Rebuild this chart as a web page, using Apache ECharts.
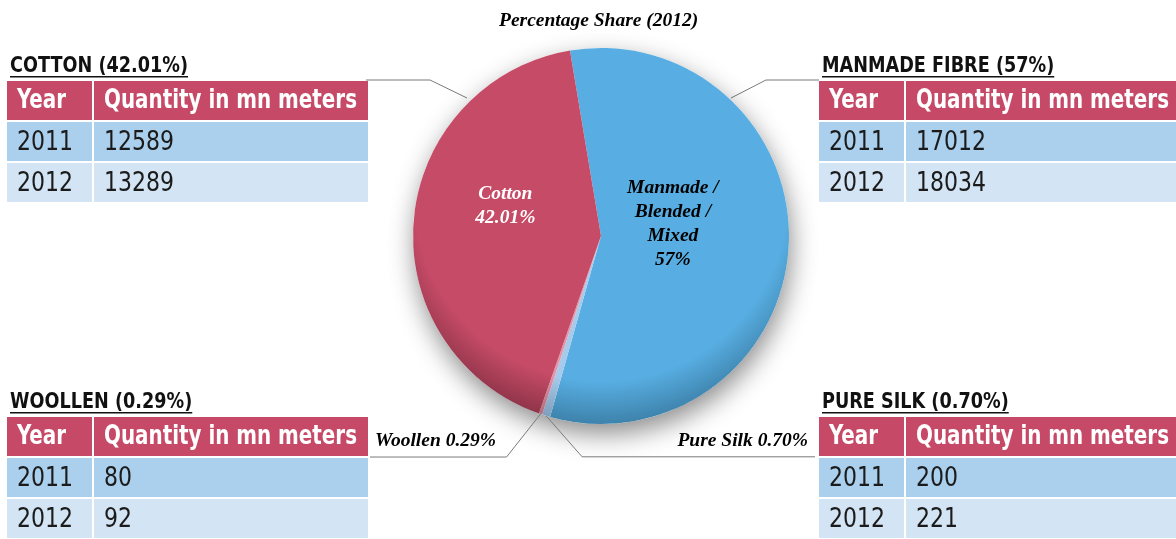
<!DOCTYPE html>
<html>
<head>
<meta charset="utf-8">
<script src="https://cdn.jsdelivr.net/npm/echarts@6/dist/echarts.min.js"></script>
<style>
  html, body { margin: 0; padding: 0; background: #fff; }
  #chart { width: 1176px; height: 539px; }
</style>
</head>
<body>
<div id="chart"></div>
<script>
// fibre types, in pie order (clockwise from the top)
const fibres = ['Manmade / Blended / Mixed', 'Pure Silk', 'Woollen', 'Cotton'];
const pieLabels = ['Manmade /\nBlended /\nMixed', 'Pure Silk', 'Woollen', 'Cotton'];
const shares = ['57%', '0.70%', '0.29%', '42.01%'];
const tableTitles = ['MANMADE FIBRE (57%)', 'PURE SILK (0.70%)', 'WOOLLEN (0.29%)', 'COTTON (42.01%)'];
const headers = ['Year', 'Quantity in mn meters'];
const years = ['2011', '2012'];
const qty2011 = [17012, 200, 80, 12589];
const qty2012 = [18034, 221, 92, 13289];

const baseColors = ['#58AEE2', '#A6CAEB', '#E496A9', '#C64B67'];
const rimColors = ['#3D82AB', '#7C9DBA', '#A96B7B', '#8C3348'];

const NARROW = '"Liberation Sans Narrow", "DejaVu Sans Condensed", "Arial Narrow", sans-serif';
const SERIF = '"Liberation Serif", "DejaVu Serif", serif';

const cx = 601, cy = 236, R = 188;

function shade(i) {
  return {
    type: 'radial', x: cx, y: cy - 42, r: 240, global: true,
    colorStops: [
      { offset: 0, color: baseColors[i] },
      { offset: 0.78, color: baseColors[i] },
      { offset: 0.96, color: rimColors[i] },
      { offset: 1, color: rimColors[i] }
    ]
  };
}

// tables
var measure = document.createElement('canvas').getContext('2d');
function textWidth(t, font) {
  measure.font = font;
  return measure.measureText(t).width;
}

// the reference uses a condensed face: squeeze the text to its widths
const titleFont = 'bold 21px ' + NARROW;
const headFont = 'bold 26px ' + NARROW;
const cellFont = '27px ' + NARROW;
const titleScale = 178 / textWidth('COTTON (42.01%)', titleFont);
const headScale = 253 / textWidth('Quantity in mn meters', headFont);
const cellScale = 56 / textWidth('2011', cellFont);

const tableSpots = [[819, 81], [819, 417], [7, 417], [7, 81]];
const rowFills = ['#C64A67', '#ABD0EE', '#D3E4F4'];
const graphics = [];

function label(x, y, text, font, fill, scale) {
  return {
    type: 'text', x: x, y: y, scaleX: scale,
    style: { text: text, font: font, fill: fill, verticalAlign: 'middle', textVerticalAlign: 'middle' }
  };
}

tableTitles.forEach(function (title, i) {
  const x0 = tableSpots[i][0], y0 = tableSpots[i][1];
  graphics.push(label(x0 + 3, y0 - 14, title, titleFont, '#111', titleScale));
  graphics.push({
    type: 'rect',
    shape: { x: x0 + 3, y: y0 - 5, width: textWidth(title, titleFont) * titleScale, height: 1.5 },
    style: { fill: '#111' }
  });
  const rows = [headers, [years[0], String(qty2011[i])], [years[1], String(qty2012[i])]];
  rows.forEach(function (row, r) {
    const y = y0 + r * 41;
    const font = r === 0 ? headFont : cellFont;
    const scale = r === 0 ? headScale : cellScale;
    const color = r === 0 ? '#fff' : '#1b1b1b';
    const ty = r === 0 ? y + 20 : y + 21;
    graphics.push({ type: 'rect', shape: { x: x0, y: y, width: 85, height: 39 }, style: { fill: rowFills[r] } });
    graphics.push({ type: 'rect', shape: { x: x0 + 87, y: y, width: 274, height: 39 }, style: { fill: rowFills[r] } });
    graphics.push(label(x0 + 10, ty, row[0], font, color, scale));
    graphics.push(label(x0 + 97, ty, row[1], font, color, scale));
  });
});

// connectors from the pie to the top tables
graphics.push({
  type: 'polyline', shape: { points: [[366, 80], [430, 80], [467, 98]] },
  style: { stroke: '#7a7a7a', lineWidth: 1, fill: null }
});
graphics.push({
  type: 'polyline', shape: { points: [[731, 98], [766, 80], [819, 80]] },
  style: { stroke: '#7a7a7a', lineWidth: 1, fill: null }
});

const innerLabel = { show: true, position: 'inside' };
const outerLabel = { show: true, position: 'outside', color: '#000' };

var chart = echarts.init(document.getElementById('chart'));
chart.setOption({
  animation: false,
  title: {
    text: 'Percentage Share (2012)',
    left: 494, top: 6,
    textStyle: { fontFamily: SERIF, fontStyle: 'italic', fontWeight: 'bold', fontSize: 19.5, color: '#000' }
  },
  graphic: { elements: graphics },
  series: [
    {
      // shadow under the pie
      type: 'pie', silent: true, z: 1,
      center: [cx, cy], radius: R,
      label: { show: false }, labelLine: { show: false },
      data: [{ value: 1, itemStyle: { color: '#fff', shadowBlur: 26, shadowColor: 'rgba(0,0,0,0.45)', shadowOffsetY: 10, shadowOffsetX: 2 } }]
    },
    {
      type: 'pie', z: 2,
      center: [cx, cy], radius: R,
      startAngle: 99.5, clockwise: true,
      avoidLabelOverlap: false,
      label: {
        fontFamily: SERIF, fontStyle: 'italic', fontWeight: 'bold', fontSize: 19.5, lineHeight: 24,
        formatter: function (p) {
          const i = p.dataIndex;
          return pieLabels[i] + (i === 1 || i === 2 ? ' ' : '\n') + shares[i];
        }
      },
      labelLine: { show: true, length: 40, length2: 20, lineStyle: { color: '#7a7a7a', width: 1 } },
      labelLayout: function (p) {
        const i = p.dataIndex;
        if (i === 3) return { dx: 1, dy: -22 };
        if (i === 0) return { dx: -25, dy: -17 };
        const p0 = p.labelLinePoints[0];
        if (i === 2) {
          const bend = [p0[0] - 34, p0[1] + 43];
          return {
            x: 496, y: bend[1] - 16, align: 'right', verticalAlign: 'middle',
            labelLinePoints: [p0, bend, [370, bend[1]]]
          };
        }
        const bend = [p0[0] + 36, p0[1] + 41];
        return {
          x: 808, y: bend[1] - 16, align: 'right', verticalAlign: 'middle',
          labelLinePoints: [p0, bend, [815, bend[1]]]
        };
      },
      data: fibres.map(function (f, i) {
        const inner = i === 0 || i === 3;
        return {
          name: f,
          value: qty2012[i],
          itemStyle: { color: shade(i) },
          label: inner ? Object.assign({ color: i === 3 ? '#fff' : '#000' }, innerLabel) : outerLabel,
          labelLine: { show: !inner }
        };
      })
    }
  ]
});
</script>
</body>
</html>
